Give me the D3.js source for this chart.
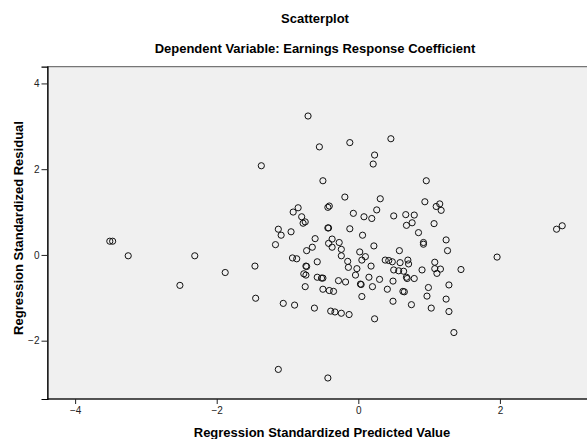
<!DOCTYPE html>
<html><head><meta charset="utf-8">
<script src="https://cdn.jsdelivr.net/npm/d3@7"></script>
<style>
html,body{margin:0;padding:0;background:#fff;}
svg{display:block;font-family:Arial,"Liberation Sans",sans-serif;}
</style></head>
<body>
<svg id="chart" width="587" height="439"></svg>
<script>
const titleText = "Scatterplot";
const subtitleText = "Dependent Variable: Earnings Response Coefficient";
const xLabel = "Regression Standardized Predicted Value";
const yLabel = "Regression Standardized Residual";
const xTicks = [-4, -2, 0, 2];
const yTicks = [-2, 0, 2, 4];

const predicted = [
 -3.51,-3.47,-3.25,-2.31,-1.88,-2.52,-1.46,-1.45,
 -0.71,-0.55,-0.12,0.46,0.23,0.21,-1.37,-0.50,0.96,-0.19,0.31,
 -0.85,-0.92,-0.43,-0.41,-0.07,0.08,0.19,0.26,0.50,0.67,0.79,-0.80,-0.78,-0.75,-0.43,-0.42,-0.12,0.68,0.76,
 -1.13,-0.95,-1.09,0.06,-1.17,-0.61,-0.42,-0.37,-0.27,0.22,-0.73,-0.65,-0.37,-0.24,0.58,0.02,0.10,0.05,-0.24,
 -0.93,-0.87,-0.15,0.38,0.43,0.48,0.59,0.70,0.71,-0.58,-0.74,-0.73,0.18,-0.14,-0.02,0.50,0.57,0.64,
 -0.77,-0.74,-0.58,-0.52,-0.50,-0.04,0.15,0.30,0.68,0.69,0.79,-0.28,-0.18,0.03,0.04,0.49,
 -0.75,-0.50,-0.41,-0.35,0.20,0.41,0.63,0.65,0.05,-1.06,-0.90,-0.62,0.49,0.75,
 -0.39,-0.33,-0.24,-0.13,0.23,-1.13,-0.43,
 0.94,1.10,1.15,1.17,1.07,0.85,0.92,0.92,1.24,1.26,1.96,2.80,2.88,1.08,0.90,1.08,1.16,1.11,1.45,
 0.99,0.97,1.28,1.24,1.03,1.28,1.35
];
const residual = [
 0.32,0.32,-0.02,-0.02,-0.41,-0.71,-0.26,-1.01,
 3.24,2.52,2.62,2.71,2.33,2.12,2.08,1.73,1.73,1.35,1.31,
 1.10,1.00,1.11,1.14,0.97,0.89,0.85,1.05,0.91,0.94,0.93,0.89,0.74,0.77,0.63,0.63,0.61,0.69,0.75,
 0.60,0.54,0.46,0.46,0.24,0.38,0.27,0.37,0.29,0.21,0.10,0.18,0.18,0.13,0.10,0.07,-0.04,-0.12,-0.02,
 -0.07,-0.09,-0.15,-0.12,-0.13,-0.16,-0.18,-0.12,-0.21,-0.16,-0.26,-0.27,-0.26,-0.29,-0.32,-0.35,-0.37,-0.38,
 -0.44,-0.47,-0.52,-0.54,-0.54,-0.47,-0.52,-0.57,-0.52,-0.55,-0.55,-0.60,-0.63,-0.68,-0.69,-0.61,
 -0.74,-0.80,-0.83,-0.85,-0.74,-0.80,-0.85,-0.86,-0.97,-1.13,-1.17,-1.24,-1.08,-1.16,
 -1.31,-1.33,-1.36,-1.39,-1.49,-2.67,-2.87,
 1.24,1.13,1.19,1.04,0.73,0.52,0.29,0.25,0.35,0.10,-0.05,0.60,0.68,-0.17,-0.35,-0.32,-0.33,-0.43,-0.34,
 -0.76,-0.96,-0.70,-1.03,-1.24,-1.32,-1.81
];

const svg = d3.select("#chart");
const plot = {left: 47.5, right: 587, top: 66.7, bottom: 399};

const x = d3.scaleLinear().domain([-4.39, 3.23]).range([plot.left, plot.right]);
const y = d3.scaleLinear().domain([-3.36, 4.39]).range([plot.bottom, plot.top]);

// plot background
svg.append("rect")
  .attr("x", plot.left).attr("y", plot.top)
  .attr("width", plot.right - plot.left + 2).attr("height", plot.bottom - plot.top)
  .attr("fill", "#f0f0f0").attr("stroke", "#555").attr("stroke-width", 1);

// axes
const xAxis = svg.append("g")
  .attr("transform", `translate(0,${plot.bottom})`)
  .call(d3.axisBottom(x).tickValues(xTicks).tickSize(5).tickPadding(3).tickFormat(d3.format("d")));
const yAxis = svg.append("g")
  .attr("transform", `translate(${plot.left},0)`)
  .call(d3.axisLeft(y).tickValues(yTicks).tickSize(6).tickPadding(2).tickFormat(d3.format("d")));
[xAxis, yAxis].forEach(g => {
  g.select(".domain").attr("stroke", "#000").attr("stroke-width", 1.2);
  g.selectAll(".tick line").attr("stroke", "#222");
  g.selectAll(".tick text").attr("fill", "#222").style("font-size", "10px")
    .style("font-family", "Arial, 'Liberation Sans', sans-serif");
});
xAxis.select(".domain").attr("d", `M${plot.left},0H${plot.right + 2}`);

// points
svg.append("g").selectAll("circle")
  .data(predicted.map((p, i) => ({p, r: residual[i]})))
  .join("circle")
  .attr("cx", d => x(d.p))
  .attr("cy", d => y(d.r))
  .attr("r", 3.1)
  .attr("fill", "none")
  .attr("stroke", "#111")
  .attr("stroke-width", 1);

// titles
svg.append("text").attr("x", 315).attr("y", 23).attr("text-anchor", "middle")
  .style("font-size", "13px").style("font-weight", "bold").text(titleText);
svg.append("text").attr("x", 315).attr("y", 53).attr("text-anchor", "middle")
  .style("font-size", "13px").style("font-weight", "bold").text(subtitleText);
svg.append("text").attr("x", 322).attr("y", 437).attr("text-anchor", "middle")
  .style("font-size", "13px").style("font-weight", "bold").text(xLabel);
svg.append("text").attr("transform", "translate(23,228) rotate(-90)").attr("text-anchor", "middle")
  .style("font-size", "13px").style("font-weight", "bold").text(yLabel);
</script>
</body></html>
